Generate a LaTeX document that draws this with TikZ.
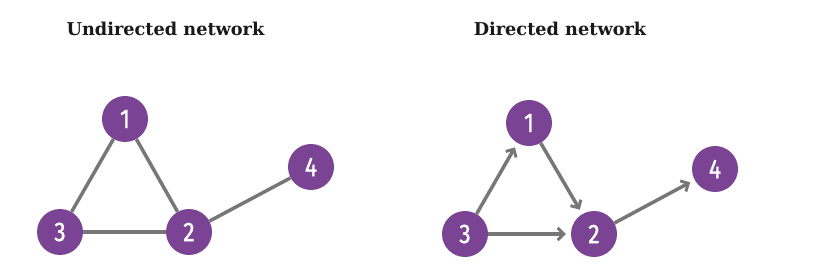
\documentclass[tikz,border=0pt]{standalone}
\usepackage{fontspec}
\setmainfont{DejaVu Serif}
\newfontfamily\numfont[FakeStretch=0.85,FakeBold=1.2]{Fira Sans}
\usetikzlibrary{arrows.meta}
\definecolor{nodepurple}{HTML}{7B4393}
\definecolor{edgegray}{HTML}{777777}
\begin{document}
\begin{tikzpicture}[x=1pt,y=-1pt,
  vert/.style={circle,fill=nodepurple,minimum size=46pt,inner sep=0pt,
    text=white,font=\numfont\fontsize{27}{27}\selectfont},
  edge/.style={draw=edgegray,line width=3.5pt},
  arc/.style={edge,-{Straight Barb[length=6pt,width=12pt,line width=3pt]},shorten >=5pt,line cap=butt},
  title/.style={font=\bfseries\fontsize{17.7}{20}\selectfont,text=black!90}]
\useasboundingbox (0,0) rectangle (826,272);
% titles
\node[title] (t1) at (165.5,29) {Undirected network};
\node[title] (t2) at (560,29) {Directed network};
% undirected
\node[vert] (u1) at (125,119) {1};
\node[vert] (u2) at (189,232) {2};
\node[vert] (u3) at (60,232) {3};
\node[vert] (u4) at (311,167) {4};
\draw[edge] (u1) -- (u3);
\draw[edge] (u1) -- (u2);
\draw[edge] (u3) -- (u2);
\draw[edge] (u2) -- (u4);
% directed
\node[vert] (d1) at (529,123) {1};
\node[vert] (d2) at (594,234) {2};
\node[vert] (d3) at (465,234) {3};
\node[vert] (d4) at (715,169) {4};
\draw[arc] (d3) -- (d1);
\draw[arc] (d1) -- (d2);
\draw[arc] (d3) -- (d2);
\draw[arc] (d2) -- (d4);
\end{tikzpicture}
\end{document}
